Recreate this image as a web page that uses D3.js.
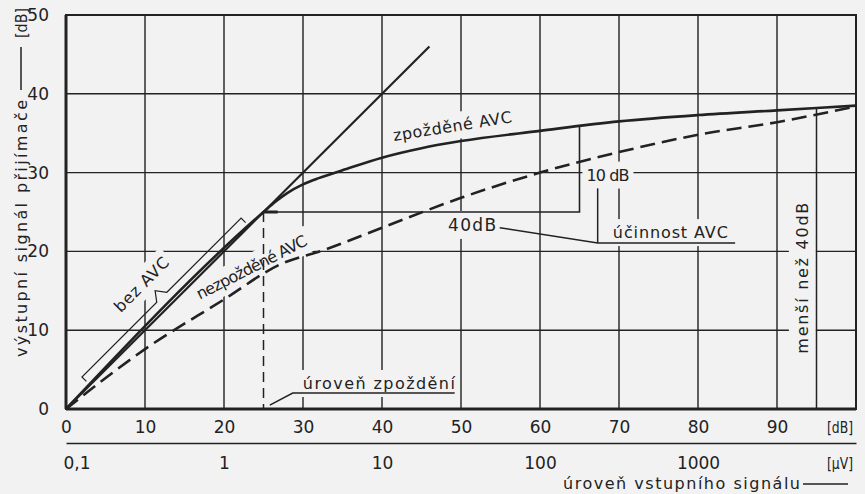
<!DOCTYPE html>
<html>
<head>
<meta charset="utf-8">
<script src="https://cdn.jsdelivr.net/npm/d3@7"></script>
<style>
  body { margin: 0; background: #f2f2f2; }
  svg { display: block; }
</style>
</head>
<body>
<svg id="chart" width="865" height="494"></svg>
<script>
// axis ticks
const xTicks = [0, 10, 20, 30, 40, 50, 60, 70, 80, 90];
const yTicks = [0, 10, 20, 30, 40, 50];
const uvDb = [0, 20, 40, 60, 80];
const uvLabels = ["0,1", "1", "10", "100", "1000"];

// curves [input dB, output dB]
const bezAvc = [[0, 0], [46, 46]];
const zpozdeneAvc = [[0, 0], [25, 25], [26.5, 26.3], [28, 27.4], [30, 28.5], [32, 29.3], [35, 30.3],
  [40, 31.9], [45, 33.1], [50, 34.0], [60, 35.3], [70, 36.5], [80, 37.3], [90, 37.9], [100, 38.5]];
const nezpozdeneAvc = [[0, 0], [10, 7.6], [20, 13.9], [27, 18.3], [33, 20.3], [40, 23.0],
  [50, 26.8], [60, 30.0], [70, 32.6], [80, 34.8], [90, 36.4], [100, 38.4]];

const delayDb = 25;      // úroveň zpoždění
const avcEndDb = 65;     // 25 + 40 dB
const markDb = 95;       // menší než 40dB

const bg = "#f2f2f2";
const ink = "#222";
const font = "DejaVu Sans";

let svg = d3.select("#chart");
svg.append("rect").attr("width", 865).attr("height", 494).attr("fill", bg);

let x = d3.scaleLinear().domain([0, 100]).range([66, 856]);
let y = d3.scaleLinear().domain([0, 50]).range([409, 15]);

let gGrid = svg.append("g");
let gMask = svg.append("g");
let gMarks = svg.append("g");
let gText = svg.append("g");

// grid
gGrid.selectAll(".vgrid")
  .data(xTicks.filter(d => d > 0))
  .join("line")
  .attr("x1", d => x(d)).attr("x2", d => x(d))
  .attr("y1", y(50)).attr("y2", y(0))
  .attr("stroke", ink).attr("stroke-width", 1.4);
gGrid.selectAll(".hgrid")
  .data(yTicks.filter(d => d > 0 && d < 50))
  .join("line")
  .attr("x1", x(0)).attr("x2", x(100))
  .attr("y1", d => y(d)).attr("y2", d => y(d))
  .attr("stroke", ink).attr("stroke-width", 1.4);

// frame
gMarks.append("rect")
  .attr("x", x(0)).attr("y", y(50))
  .attr("width", x(100) - x(0)).attr("height", y(0) - y(50))
  .attr("fill", "none").attr("stroke", ink).attr("stroke-width", 2);
gMarks.append("line")
  .attr("x1", x(0)).attr("x2", x(0)).attr("y1", y(50)).attr("y2", y(0))
  .attr("stroke", ink).attr("stroke-width", 3);
gMarks.append("line")
  .attr("x1", x(0)).attr("x2", x(100)).attr("y1", y(0)).attr("y2", y(0))
  .attr("stroke", ink).attr("stroke-width", 3);

let line = d3.line()
  .x(d => x(d[0]))
  .y(d => y(d[1]))
  .curve(d3.curveMonotoneX);
let straight = d3.line().x(d => x(d[0])).y(d => y(d[1]));

gMarks.append("path").attr("d", line(bezAvc))
  .attr("fill", "none").attr("stroke", ink).attr("stroke-width", 2.2);
gMarks.append("path").attr("d", line(zpozdeneAvc))
  .attr("fill", "none").attr("stroke", ink).attr("stroke-width", 2.6);
gMarks.append("path").attr("d", line(nezpozdeneAvc))
  .attr("fill", "none").attr("stroke", ink).attr("stroke-width", 2.6)
  .attr("stroke-dasharray", "15,7");

// curve value lookup for the helper lines
function zpAt(v) {
  for (let i = 1; i < zpozdeneAvc.length; i++) {
    let a = zpozdeneAvc[i - 1], b = zpozdeneAvc[i];
    if (v <= b[0]) return a[1] + (b[1] - a[1]) * (v - a[0]) / (b[0] - a[0]);
  }
  return zpozdeneAvc[zpozdeneAvc.length - 1][1];
}

// delay level dashed vertical
gMarks.append("line")
  .attr("x1", x(delayDb)).attr("x2", x(delayDb))
  .attr("y1", y(delayDb)).attr("y2", y(0))
  .attr("stroke", ink).attr("stroke-width", 1.5).attr("stroke-dasharray", "10,6");

// 40 dB / 10 dB bracket
gMarks.append("path")
  .attr("d", straight([[delayDb, delayDb], [avcEndDb, delayDb], [avcEndDb, zpAt(avcEndDb)]]))
  .attr("fill", "none").attr("stroke", ink).attr("stroke-width", 1.6);
gMarks.append("path")
  .attr("d", straight([[delayDb, delayDb], [delayDb + 1.8, delayDb]]))
  .attr("stroke", ink).attr("stroke-width", 3);

// menší než 40dB marker
gMarks.append("line")
  .attr("x1", x(markDb)).attr("x2", x(markDb))
  .attr("y1", y(zpAt(markDb))).attr("y2", y(0))
  .attr("stroke", ink).attr("stroke-width", 1.5);

// bez AVC brace, built along the 45 degree line
function along(s, d) { return [(s - d) / Math.SQRT2, (s + d) / Math.SQRT2]; }
let bs0 = 4.3, bs1 = 32.8, bsm = 18.6, bd = 1.45;
gMarks.append("path")
  .attr("d", straight([
    along(bs0, bd - 0.8), along(bs0, bd), along(bsm - 0.9, bd), along(bsm, bd + 1.2),
    along(bsm + 0.9, bd), along(bs1, bd), along(bs1, bd - 0.8)
  ]))
  .attr("fill", "none").attr("stroke", ink).attr("stroke-width", 1.2);

// leaders and underlines
gMarks.append("path")
  .attr("d", straight([[25.8, 0.5], [28.7, 2.03], [49.2, 2.03]]))
  .attr("fill", "none").attr("stroke", ink).attr("stroke-width", 1.5);
gMarks.append("path")
  .attr("d", straight([[54.9, 23.0], [67.3, 21.07], [84.7, 21.07]]))
  .attr("fill", "none").attr("stroke", ink).attr("stroke-width", 1.5);
gMarks.append("line")
  .attr("x1", x(67.3)).attr("x2", x(67.3))
  .attr("y1", y(28.0)).attr("y2", y(21.07))
  .attr("stroke", ink).attr("stroke-width", 1.5);

// labels with a paper coloured patch behind them
function label(txt, cx, cy, opt) {
  let o = Object.assign({ angle: 0, size: 16, len: null, pad: 4, mask: true }, opt);
  let tr = "translate(" + cx + "," + cy + ") rotate(" + o.angle + ")";
  let t = gText.append("text")
    .attr("transform", tr)
    .attr("dy", "0.35em")
    .attr("text-anchor", "middle")
    .attr("font-family", font)
    .attr("font-size", o.size)
    .attr("fill", ink)
    .text(txt);
  if (o.len) t.attr("textLength", o.len).attr("lengthAdjust", "spacing");
  if (o.mask) {
    let b = t.node().getBBox();
    let px = o.padX != null ? o.padX : o.pad;
    gMask.append("rect")
      .attr("transform", tr)
      .attr("x", b.x - px).attr("y", b.y - o.pad)
      .attr("width", b.width + 2 * px).attr("height", b.height + 2 * o.pad)
      .attr("fill", bg);
  }
  return t;
}

label("bez AVC", x(9.56), y(15.8), { angle: -45, len: 70 });
label("nezpožděné AVC", x(23.5), y(18.0), { angle: -27, len: 122 });
label("zpožděné AVC", x(48.9), y(35.9), { angle: -9, len: 120 });
label("10 dB", x(68.6), y(29.7), { size: 16, len: 43 });
label("40dB", x(51.4), y(23.35), { size: 17, len: 48 });
label("účinnost AVC", x(76.5), y(22.4), { len: 115 });
label("úroveň zpoždění", x(39.6), y(3.25), { len: 152 });
label("menší než 40dB", x(93.2), y(16.6), { angle: -90, len: 151, padX: 8 });

// y axis
svg.append("g")
  .attr("transform", "translate(" + x(0) + ",0)")
  .call(d3.axisLeft(y).tickValues(yTicks).tickSize(0).tickPadding(17))
  .call(g => g.select(".domain").remove())
  .attr("font-family", font).attr("font-size", 17)
  .selectAll("text").attr("fill", ink);

// x axis in dB
svg.append("g")
  .attr("transform", "translate(0," + y(0) + ")")
  .call(d3.axisBottom(x).tickValues(xTicks).tickSize(0).tickPadding(12))
  .call(g => g.select(".domain").remove())
  .attr("font-family", font).attr("font-size", 17)
  .selectAll("text").attr("fill", ink);

// x axis in microvolts
let uvAxis = svg.append("g")
  .attr("transform", "translate(0,443)")
  .call(d3.axisBottom(x).tickValues(uvDb).tickFormat((d, i) => uvLabels[i])
    .tickSize(0).tickSizeOuter(0).tickPadding(14))
  .attr("font-family", font).attr("font-size", 17);
uvAxis.select(".domain").attr("stroke", ink).attr("stroke-width", 1.5);
uvAxis.selectAll("text").attr("fill", ink)
  .filter((d, i) => i === 0).attr("text-anchor", "start").attr("x", -3);

svg.append("text").attr("x", 853).attr("y", 433).attr("text-anchor", "end")
  .attr("font-family", font).attr("font-size", 16).attr("fill", ink)
  .attr("textLength", 26).attr("lengthAdjust", "spacingAndGlyphs").text("[dB]");
svg.append("text").attr("x", 853).attr("y", 469).attr("text-anchor", "end")
  .attr("font-family", font).attr("font-size", 16).attr("fill", ink)
  .attr("textLength", 26).attr("lengthAdjust", "spacingAndGlyphs").text("[μV]");

// axis titles
svg.append("text").attr("x", 681.5).attr("y", 489).attr("text-anchor", "middle")
  .attr("font-family", font).attr("font-size", 16).attr("fill", ink)
  .attr("textLength", 237).attr("lengthAdjust", "spacing")
  .text("úroveň vstupního signálu");
svg.append("line").attr("x1", 803).attr("x2", 848).attr("y1", 484).attr("y2", 484)
  .attr("stroke", ink).attr("stroke-width", 1.5);

svg.append("text").attr("transform", "translate(21,228.5) rotate(-90)")
  .attr("dy", "0.35em").attr("text-anchor", "middle")
  .attr("font-family", font).attr("font-size", 16).attr("fill", ink)
  .attr("textLength", 257).attr("lengthAdjust", "spacing")
  .text("výstupní signál přijímače");
svg.append("line").attr("x1", 21).attr("x2", 21).attr("y1", 47).attr("y2", 90)
  .attr("stroke", ink).attr("stroke-width", 1.5);
svg.append("text").attr("transform", "translate(21,23) rotate(-90)")
  .attr("dy", "0.35em").attr("text-anchor", "middle")
  .attr("font-family", font).attr("font-size", 16).attr("fill", ink)
  .attr("textLength", 30).attr("lengthAdjust", "spacingAndGlyphs")
  .text("[dB]");
</script>
</body>
</html>
